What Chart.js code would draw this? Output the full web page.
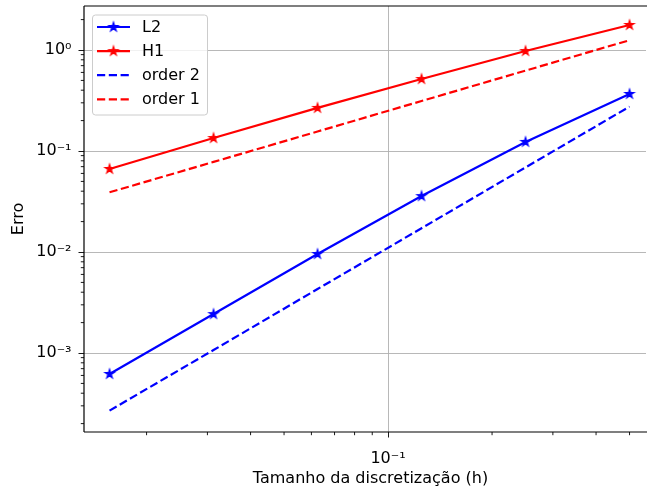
<!DOCTYPE html>
<html><head><meta charset="utf-8">
<script src="https://cdn.jsdelivr.net/npm/chart.js@4"></script>
<style>html,body{margin:0;padding:0;background:#fff;overflow:hidden;}</style>
</head><body>
<canvas id="c" width="647" height="490" style="display:block;width:647px;height:490px"></canvas>
<script>
const h = [1/64, 1/32, 1/16, 1/8, 1/4, 1/2];
const errL2 = [0.00062, 0.00243, 0.00955, 0.0358, 0.123, 0.367];
const errH1 = [0.0664, 0.1345, 0.267, 0.516, 0.977, 1.77];
const order2 = [0.000269, 0.00107, 0.0043, 0.0172, 0.0688, 0.275];
const order1 = [0.039, 0.078, 0.156, 0.3125, 0.625, 1.25];
const seriesNames = ['L2', 'H1', 'order 2', 'order 1'];
const xMajorTicks = [0.1];
const yMajorTicks = [1e-3, 1e-2, 1e-1, 1];
const xLabel = 'Tamanho da discretização (h)';
const yLabel = 'Erro';

const FONT = 16;
Chart.defaults.font.family = 'DejaVu Sans';
Chart.defaults.color = '#000';

const SUP = {'-':'⁻','0':'⁰','1':'¹','2':'²','3':'³','4':'⁴','5':'⁵','6':'⁶','7':'⁷','8':'⁸','9':'⁹'};
function powLabel(v){
  const e = Math.round(Math.log10(v));
  return '10' + String(e).split('').map(ch => SUP[ch]).join('');
}
function makeStar(color){
  const c = document.createElement('canvas'); const s = 14; c.width = s; c.height = s;
  const g = c.getContext('2d'); const R = 4.6, r = R * 0.381966;
  g.beginPath();
  for (let i = 0; i < 10; i++) {
    const a = -Math.PI/2 + i*Math.PI/5; const rad = i % 2 ? r : R;
    g.lineTo(s/2 + rad*Math.cos(a), s/2 + rad*Math.sin(a));
  }
  g.closePath(); g.fillStyle = color; g.fill();
  g.lineWidth = 1.3; g.strokeStyle = color; g.lineJoin = 'miter'; g.stroke();
  return c;
}
const starB = makeStar('#0000ff'), starR = makeStar('#ff0000');
const LW = 2.2;
const DASH = [8.2, 3.6];
const toPts = arr => arr.map((v, i) => ({x: h[i], y: v}));

const legendItems = [
  {label: seriesNames[0], color: '#0000ff', dash: [], star: starB},
  {label: seriesNames[1], color: '#ff0000', dash: [], star: starR},
  {label: seriesNames[2], color: '#0000ff', dash: DASH, star: null},
  {label: seriesNames[3], color: '#ff0000', dash: DASH, star: null}
];

const decor = {
  id: 'decor',
  afterDraw(chart) {
    const ctx = chart.ctx, a = chart.chartArea;
    const xs = chart.scales.x, ys = chart.scales.y;
    ctx.save();
    ctx.strokeStyle = '#000'; ctx.lineWidth = 0.9;
    ctx.beginPath();
    for (let e = -5; e <= 1; e++) for (let m = 2; m <= 9; m++) {
      const v = m * Math.pow(10, e);
      if (v > ys.min && v < ys.max) {
        const py = ys.getPixelForValue(v);
        ctx.moveTo(a.left, py); ctx.lineTo(a.left - 3.2, py);
      }
      if (v > xs.min && v < xs.max) {
        const px = xs.getPixelForValue(v);
        ctx.moveTo(px, a.bottom); ctx.lineTo(px, a.bottom + 3.2);
      }
    }
    ctx.stroke();
    ctx.lineWidth = 1.2; ctx.strokeStyle = '#000';
    ctx.beginPath();
    ctx.moveTo(a.left, a.top); ctx.lineTo(chart.width, a.top);
    ctx.moveTo(a.left, a.top); ctx.lineTo(a.left, a.bottom);
    ctx.moveTo(a.left, a.bottom); ctx.lineTo(chart.width, a.bottom);
    ctx.stroke();
    ctx.fillStyle = '#000'; ctx.font = FONT + 'px "DejaVu Sans"';
    ctx.textAlign = 'center'; ctx.textBaseline = 'alphabetic';
    ctx.fillText(xLabel, 370.5, 483);
    const bx = a.left + 8, by = a.top + 8.5, bw = 115, bh = 100;
    ctx.globalAlpha = 0.8; ctx.fillStyle = '#fff';
    ctx.beginPath(); ctx.roundRect(bx, by, bw, bh, 3); ctx.fill();
    ctx.globalAlpha = 1; ctx.strokeStyle = '#cccccc'; ctx.lineWidth = 1;
    ctx.beginPath(); ctx.roundRect(bx + 0.5, by + 0.5, bw, bh, 3); ctx.stroke();
    ctx.font = FONT + 'px "DejaVu Sans"'; ctx.textBaseline = 'middle'; ctx.textAlign = 'left';
    legendItems.forEach((it, i) => {
      const y = by + 12.5 + i * 24.1;
      ctx.strokeStyle = it.color; ctx.lineWidth = LW; ctx.setLineDash(it.dash);
      ctx.beginPath(); ctx.moveTo(bx + 5, y); ctx.lineTo(bx + 38, y); ctx.stroke();
      ctx.setLineDash([]);
      if (it.star) ctx.drawImage(it.star, bx + 21.5 - it.star.width/2, y - it.star.height/2);
      ctx.fillStyle = '#000'; ctx.fillText(it.label, bx + 50, y + 1);
    });
    ctx.restore();
  }
};
function zeroPad(s){ s.paddingTop = 0; s.paddingBottom = 0; s.paddingLeft = 0; s.paddingRight = 0; }

new Chart(document.getElementById('c'), {
  type: 'line',
  data: {
    datasets: [
      {label: seriesNames[0], data: toPts(errL2), borderColor: '#0000ff', backgroundColor: '#0000ff', borderWidth: LW,
       pointStyle: starB, pointRadius: 5, fill: false, tension: 0},
      {label: seriesNames[1], data: toPts(errH1), borderColor: '#ff0000', backgroundColor: '#ff0000', borderWidth: LW,
       pointStyle: starR, pointRadius: 5, fill: false, tension: 0},
      {label: seriesNames[2], data: toPts(order2), borderColor: '#0000ff', borderWidth: LW, borderDash: DASH,
       pointRadius: 0, fill: false, tension: 0},
      {label: seriesNames[3], data: toPts(order1), borderColor: '#ff0000', borderWidth: LW, borderDash: DASH,
       pointRadius: 0, fill: false, tension: 0}
    ]
  },
  options: {
    responsive: false, animation: false,
    layout: {autoPadding: false, padding: {top: 6, right: 1, left: 0, bottom: 0}},
    plugins: {legend: {display: false}, tooltip: {enabled: false}, title: {display: false}},
    scales: {
      x: {
        type: 'logarithmic', position: 'bottom', min: 0.01318, max: 0.558,
        afterBuildTicks: s => { s.ticks = xMajorTicks.map(v => ({value: v, major: true})); },
        afterFit: s => { s.height = 58; zeroPad(s); },
        ticks: {callback: v => powLabel(v), autoSkip: false, maxRotation: 0, padding: 12, font: {size: FONT}, color: '#000'},
        grid: {color: '#b0b0b0', lineWidth: 0.9, tickColor: '#000', tickLength: 5.5, drawTicks: true},
        border: {display: false},
        title: {display: false}
      },
      y: {
        type: 'logarithmic', position: 'left', min: 1.652e-4, max: 2.727,
        afterBuildTicks: s => { s.ticks = yMajorTicks.map(v => ({value: v, major: true})); },
        afterFit: s => { s.width = 84; zeroPad(s); },
        ticks: {callback: v => powLabel(v), autoSkip: false, padding: 7, font: {size: FONT}, color: '#000'},
        grid: {color: '#b0b0b0', lineWidth: 0.9, tickColor: '#000', tickLength: 5.5, drawTicks: true},
        border: {display: false},
        title: {display: true, text: yLabel, font: {size: FONT}, color: '#000', padding: {top: 9.5, bottom: 0}}
      }
    }
  },
  plugins: [decor]
});
</script>
</body></html>
